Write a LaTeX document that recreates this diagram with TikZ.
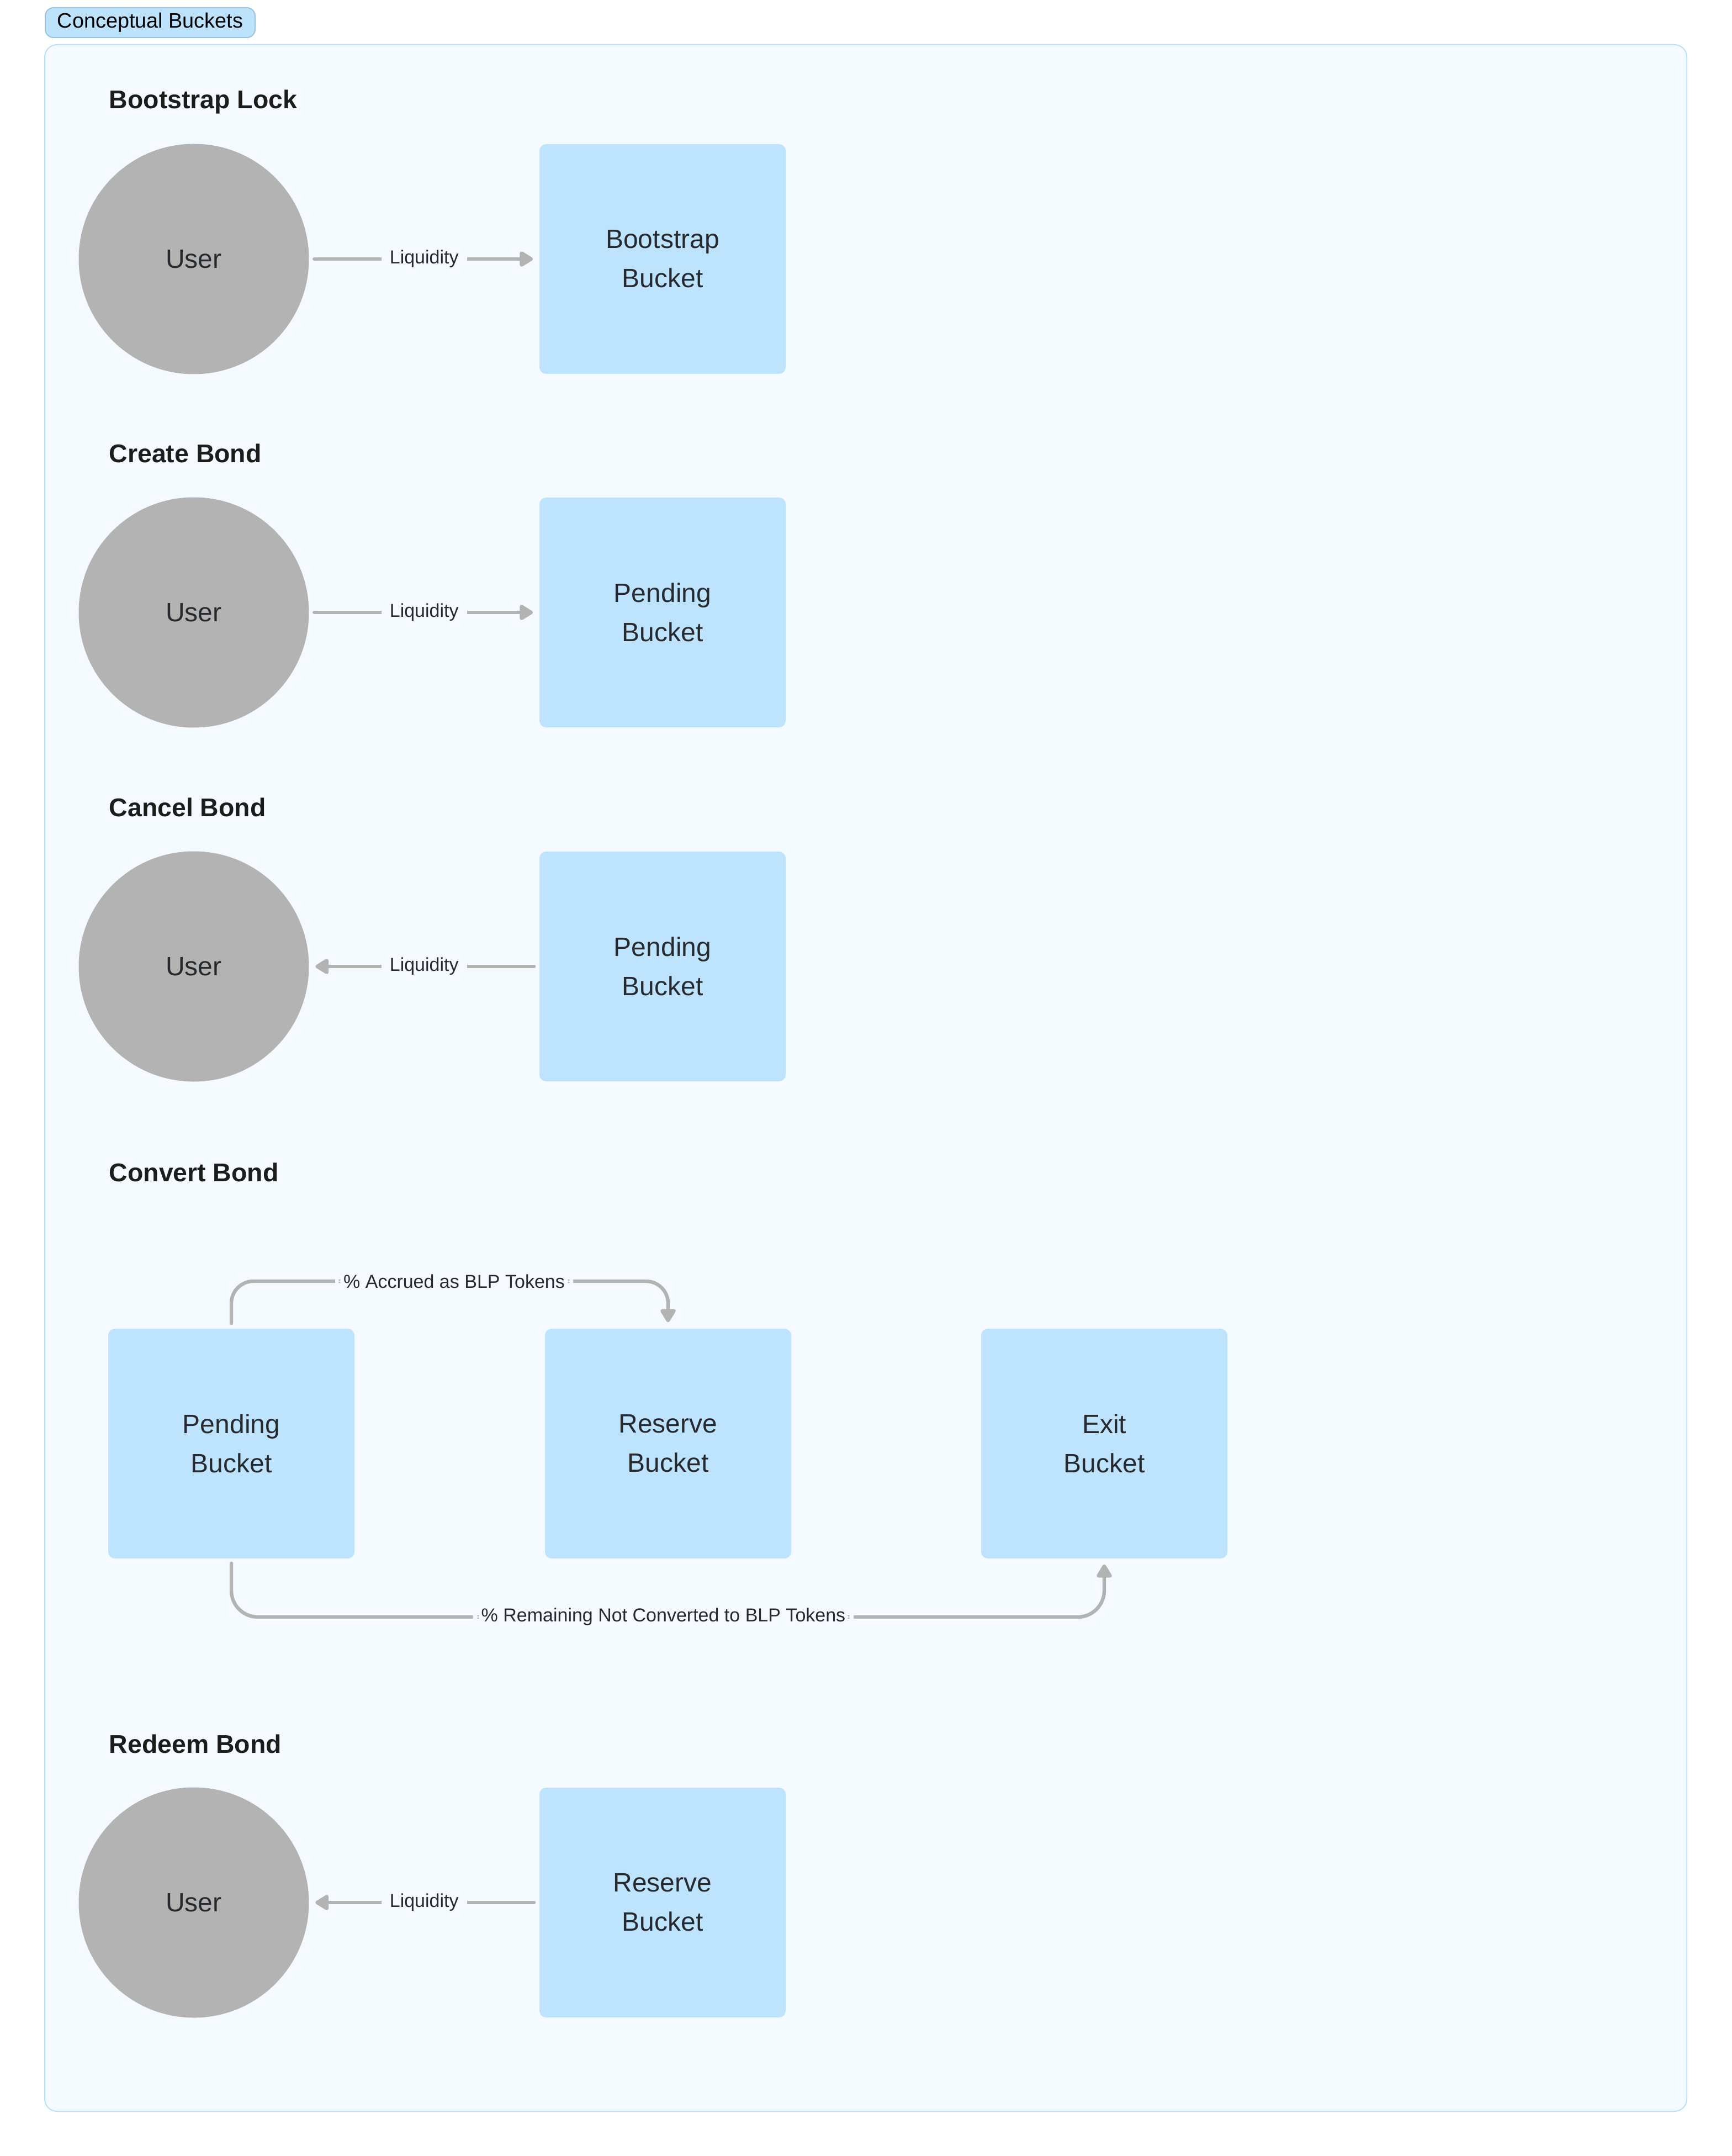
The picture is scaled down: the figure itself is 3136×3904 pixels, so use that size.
\documentclass[tikz,border=0pt]{standalone}
\usepackage{fontspec}
\setmainfont{Liberation Sans}
\usetikzlibrary{arrows.meta}
\definecolor{bgc}{HTML}{F4FAFF}
\definecolor{framec}{HTML}{BDE3FC}
\definecolor{tagfill}{HTML}{BDE3FC}
\definecolor{tagline}{HTML}{9CC3DD}
\definecolor{boxc}{HTML}{BEE3FC}
\definecolor{userc}{HTML}{B3B3B3}
\definecolor{linec}{HTML}{B3B3B3}
\definecolor{txtc}{HTML}{262A2F}
\definecolor{headc}{HTML}{1C1C1C}
\tikzset{
  heading/.style={anchor=base west, inner sep=0pt, text=headc, font=\fontsize{11.6pt}{14pt}\selectfont\bfseries},
  user/.style={circle, fill=userc, minimum size=104.25pt, inner sep=0pt, text=txtc, font=\fontsize{12pt}{14pt}\selectfont},
  bucket/.style={rectangle, rounded corners=3pt, fill=boxc, minimum width=111.5pt, minimum height=104pt, inner sep=0pt, align=center, text=txtc, font=\fontsize{12pt}{17.75pt}\selectfont},
  lbl/.style={fill=bgc, inner xsep=3.75pt, inner ysep=1pt, text=txtc, font=\fontsize{8.5pt}{10pt}\selectfont},
  arr/.style={draw=linec, line width=1.6pt, line cap=round, -{Triangle[length=6.75pt,width=7.75pt,round]}},
  tagbox/.style={rectangle, rounded corners=3.75pt, fill=tagfill, draw=tagline, line width=0.5pt, minimum width=95pt, minimum height=13.5pt, inner sep=0pt, text=black, font=\fontsize{9.45pt}{11pt}\selectfont}
}
\begin{document}
\begin{tikzpicture}[x=0.25pt,y=-0.25pt]
\useasboundingbox (0,0) rectangle (3136,3904);
\fill[white] (0,0) rectangle (3136,3904);
% container
\draw[rounded corners=5.5pt, fill=bgc, draw=framec, line width=0.5pt] (81,81) rectangle (3055,3823);
\node[tagbox, anchor=north west] (tag) at (81,13) {Conceptual Buckets};

% Bootstrap Lock
\node[heading] (h1) at (197,197) {Bootstrap Lock};
\node[user] (u1) at (351,469) {User};
\node[bucket] (b1) at (1200,469) {Bootstrap\\Bucket};
\draw[arr, shorten <=2.25pt, shorten >=2.75pt] (u1) -- node[lbl]{Liquidity} (b1);

% Create Bond
\node[heading] (h2) at (197,838) {Create Bond};
\node[user] (u2) at (351,1109) {User};
\node[bucket] (b2) at (1200,1109) {Pending\\Bucket};
\draw[arr, shorten <=2.25pt, shorten >=2.75pt] (u2) -- node[lbl]{Liquidity} (b2);

% Cancel Bond
\node[heading] (h3) at (197,1478) {Cancel Bond};
\node[user] (u3) at (351,1750) {User};
\node[bucket] (b3) at (1200,1750) {Pending\\Bucket};
\draw[arr, shorten <=2.25pt, shorten >=2.75pt] (b3) -- node[lbl]{Liquidity} (u3);

% Convert Bond
\node[heading] (h4) at (197,2139) {Convert Bond};
\node[bucket] (cp) at (419,2614) {Pending\\Bucket};
\node[bucket] (cr) at (1210,2614) {Reserve\\Bucket};
\node[bucket] (ce) at (2000,2614) {Exit\\Bucket};
\coordinate (topy) at (0,2320);
\coordinate (boty) at (0,2928);
\draw[arr, rounded corners=10pt, shorten <=2.25pt, shorten >=2.75pt] (cp.north) -- (cp.north |- topy) -| node[lbl, pos=0.25, xshift=2pt]{\% Accrued as BLP Tokens} (cr.north);
\draw[arr, rounded corners=12pt, shorten <=2pt, shorten >=2.5pt] (cp.south) -- (cp.south |- boty) -| node[lbl, pos=0.25, xshift=-2pt]{\% Remaining Not Converted to BLP Tokens} (ce.south);

% Redeem Bond
\node[heading] (h5) at (197,3174) {Redeem Bond};
\node[user] (u5) at (351,3445) {User};
\node[bucket] (b5) at (1200,3445) {Reserve\\Bucket};
\draw[arr, shorten <=2.25pt, shorten >=2.75pt] (b5) -- node[lbl]{Liquidity} (u5);
\end{tikzpicture}
\end{document}
